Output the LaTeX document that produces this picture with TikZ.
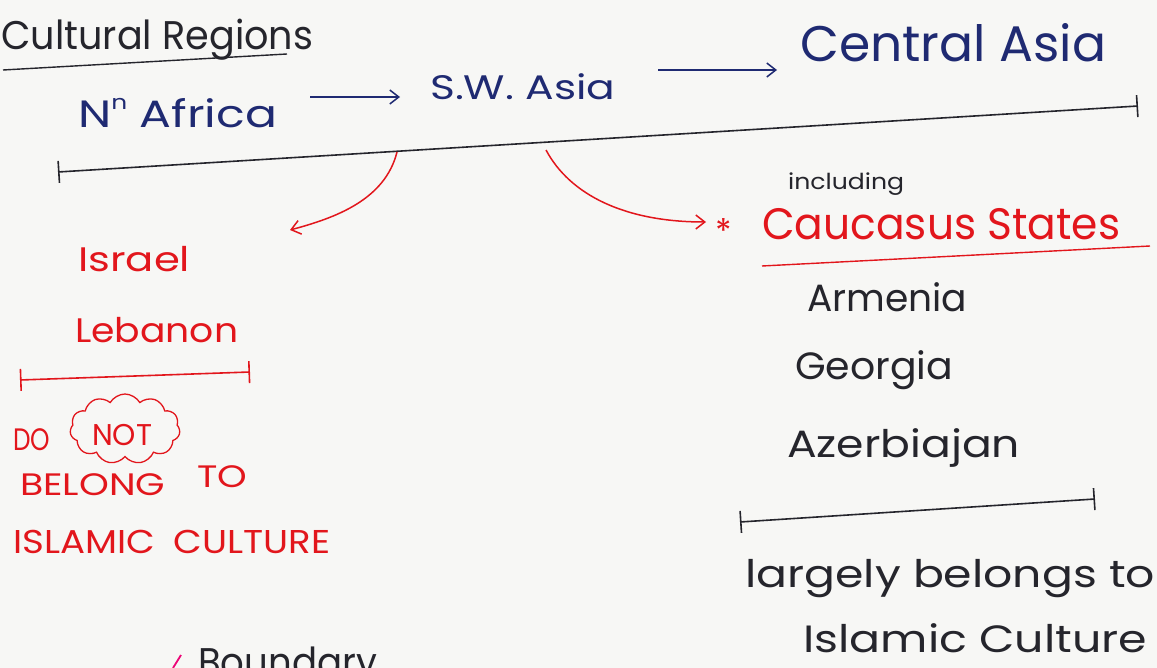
\documentclass[tikz,border=0pt]{standalone}
\usepackage{fontspec}
\usepackage{graphicx}
\setmainfont{Poppins}
\usetikzlibrary{arrows.meta,shapes.symbols,calc}
\definecolor{ink}{HTML}{1F2A72}
\definecolor{redink}{HTML}{E2161C}
\definecolor{pencil}{HTML}{25252C}
\definecolor{paper}{HTML}{F7F7F5}
\newcommand{\fs}[1]{\fontsize{#1}{#1}\selectfont}
% stretch a word horizontally to a given width (in pt), keeping its height
\newcommand{\hw}[2]{\resizebox{#1pt}{\height}{#2}}
\begin{document}
\begin{tikzpicture}[x=1pt,y=-1pt,
  txt/.style={anchor=base west, inner sep=0pt},
  bluetxt/.style={txt, text=ink},
  redtxt/.style={txt, text=redink},
  darktxt/.style={txt, text=pencil},
  blueline/.style={draw=ink, line width=1.5pt, -{Straight Barb[length=9pt,width=14pt]}},
  redarrow/.style={draw=redink, line width=1.5pt, -{Straight Barb[length=9pt,width=14pt]}},
  barline/.style={line width=1.6pt, {Bar[width=22pt]}-{Bar[width=22pt]}}
]
\useasboundingbox (0,0) rectangle (1157,668);
\fill[paper] (0,0) rectangle (1157,668);
\clip (0,0) rectangle (1157,668);

% heading
\node[darktxt, font=\fs{40}] (title) at (1,50) {\hw{312}{Cultural Regions}};
\draw[pencil, line width=1.4pt] (3,70) -- (287,54);

% regions along the top
\node[bluetxt, font=\fs{38}] (nafrica) at (78,128) {\hw{199}{N\raisebox{0.48em}{\fs{20}n} Africa}};
\node[bluetxt, font=\fs{34}] (swasia) at (430,100) {\hw{185}{S.W. Asia}};
\node[bluetxt, font=\fs{50}] (casia) at (800,62) {\hw{306}{Central Asia}};
\draw[blueline] ($(nafrica.base east)+(33,-31)$) -- ($(swasia.base west)+(-30,-3)$);
\draw[blueline] ($(swasia.base east)+(43,-30)$) -- ($(casia.base west)+(-23,8)$);

% span of the cultural region
\coordinate (spanL) at (58,172);
\coordinate (spanR) at (1138,106);
\draw[pencil, barline] (spanL) -- (spanR);

% branches below S.W. Asia
\coordinate (brL) at (397,152);
\coordinate (brLend) at (290,230);
\coordinate (brR) at (546,150);
\coordinate (brRend) at (706,222);
\draw[redarrow] (brL) .. controls (385,200) and (335,218) .. (brLend);
\draw[redarrow] (brR) .. controls (570,195) and (625,222) .. (brRend);
\node[redtxt, font=\fs{34}] (star) at (715,244) {*};

% Caucasus branch
\node[darktxt, font=\fs{22}] (incl) at (788,190) {\hw{116}{including}};
\node[redtxt, font=\fs{44}] (cauc) at (762,240) {\hw{358}{Caucasus States}};
\draw[redink, line width=1.4pt] (762,266) -- (1150,246);

\node[darktxt, font=\fs{38}] (armenia) at (807,312) {\hw{160}{Armenia}};
\node[darktxt, font=\fs{38}] (georgia) at (795,380) {\hw{158}{Georgia}};
\node[darktxt, font=\fs{38}] (azer) at (787,457) {\hw{233}{Azerbiajan}};
\draw[pencil, barline] (740,522) -- (1095,499);
\node[darktxt, font=\fs{38}] (largely) at (745,587) {\hw{410}{largely belongs to}};
\node[darktxt, font=\fs{38}] (islamic) at (803,652) {\hw{344}{Islamic Culture}};

% Israel / Lebanon branch
\node[redtxt, font=\fs{34}] (israel) at (78,272) {\hw{112}{Israel}};
\node[redtxt, font=\fs{34}] (lebanon) at (75,343) {\hw{163}{Lebanon}};
\draw[redink, barline] (20,380) -- (250,372);
\node[redtxt, font=\fs{31}] (do) at (13,450) {\hw{37}{DO}};
\node[cloud, draw=redink, line width=1.3pt, cloud puffs=11, cloud puff arc=120,
      cloud ignores aspect, minimum width=110pt, minimum height=70pt, inner sep=0pt]
      (not) at (125,429) {};
\node[redtxt, font=\fs{30}] (nottxt) at (92,445) {\hw{60}{NOT}};
\node[redtxt, font=\fs{31}] (belong) at (20,495) {\hw{145}{BELONG}};
\node[redtxt, font=\fs{31}] (to) at (197,487) {\hw{50}{TO}};
\node[redtxt, font=\fs{33}] (islcult) at (13,553) {\hw{317}{ISLAMIC\hspace{0.5em}CULTURE}};

% bottom note, running off the page
\draw[magenta!80!red, line width=1.8pt] (173,668) -- (181,655);
\node[darktxt, font=\fs{40}] (boundary) at (198,676) {\hw{179}{Boundary}};
\end{tikzpicture}
\end{document}
